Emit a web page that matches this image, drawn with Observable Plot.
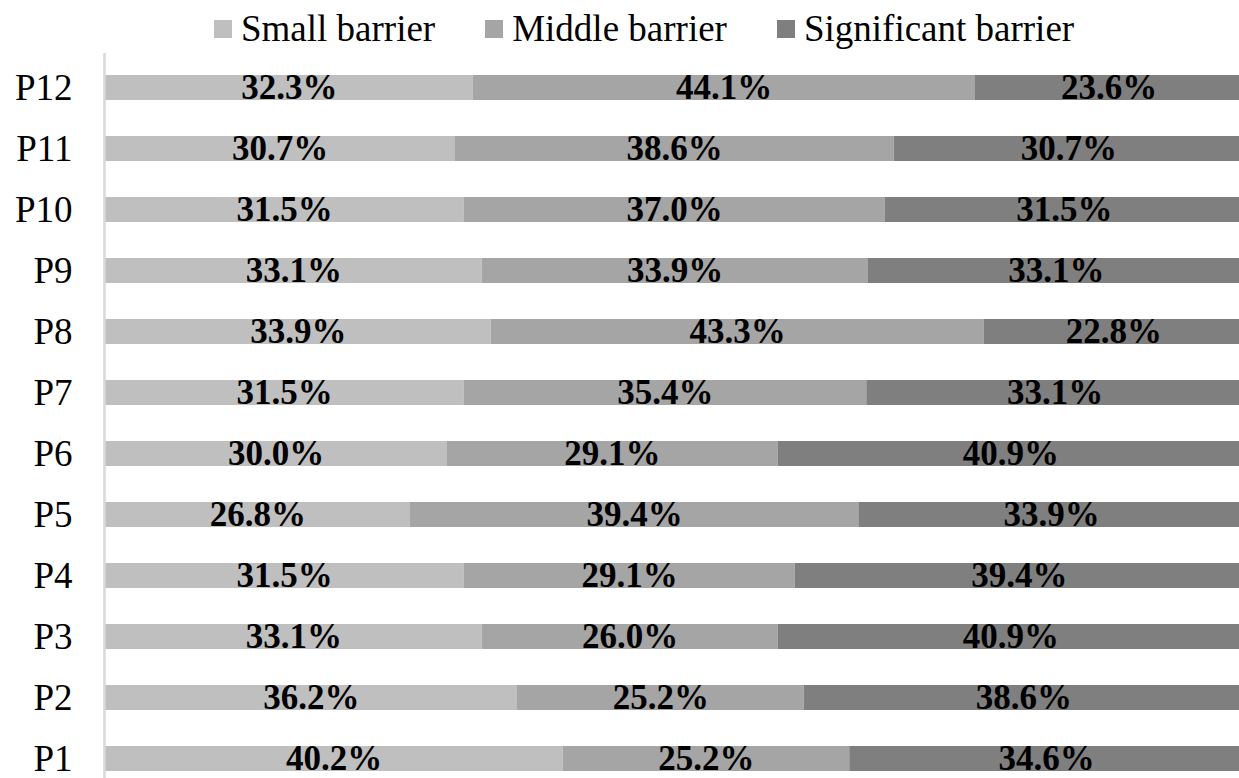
<!DOCTYPE html>
<html>
<head>
<meta charset="utf-8">
<script src="https://cdn.jsdelivr.net/npm/d3@7"></script>
<script src="https://cdn.jsdelivr.net/npm/@observablehq/plot@0.6"></script>
<style>
  html, body { margin: 0; padding: 0; background: #fff; overflow: hidden; }
  body { width: 1239px; height: 778px; font-family: 'Liberation Serif', 'Times New Roman', serif; }
  #legend { height: 53px; display: flex; align-items: center; padding-left: 214px; box-sizing: border-box; padding-top: 4px; }
  .item { display: flex; align-items: center; margin-right: 50px; font-size: 37px; color: #000; font-family: 'Liberation Serif', 'Times New Roman', serif; }
  .sw { width: 18px; height: 18px; margin-right: 9px; }
</style>
</head>
<body>
<div id="legend"></div>
<div id="chart"></div>
<script>
const categories = ["P1","P2","P3","P4","P5","P6","P7","P8","P9","P10","P11","P12"];
const series = ["Small barrier","Middle barrier","Significant barrier"];
const small = [40.2,36.2,33.1,31.5,26.8,30.0,31.5,33.9,33.1,31.5,30.7,32.3];
const middle = [25.2,25.2,26.0,29.1,39.4,29.1,35.4,43.3,33.9,37.0,38.6,44.1];
const significant = [34.6,38.6,40.9,39.4,33.9,40.9,33.1,22.8,33.1,31.5,30.7,23.6];
const colors = ["#bfbfbf","#a5a5a5","#7f7f7f"];

const valuesBySeries = [small, middle, significant];
const rows = [];
series.forEach((s, si) => {
  categories.forEach((c, ci) => {
    rows.push({cat: c, series: s, value: valuesBySeries[si][ci]});
  });
});

// legend
const legend = document.getElementById("legend");
series.forEach((s, i) => {
  const it = document.createElement("div");
  it.className = "item";
  const sw = document.createElement("span");
  sw.className = "sw";
  sw.style.background = colors[i];
  const tx = document.createElement("span");
  tx.textContent = s;
  it.appendChild(sw);
  it.appendChild(tx);
  legend.appendChild(it);
});

const chart = Plot.plot({
  width: 1239,
  height: 725,
  marginLeft: 105,
  marginRight: 0,
  marginTop: 0,
  marginBottom: 0,
  style: {fontFamily: "'Liberation Serif', 'Times New Roman', serif", color: "#000", background: "#fff"},
  x: {domain: [0, 100], range: [105, 1243], axis: null},
  y: {domain: categories.slice().reverse(), range: [-16.1, 756.6], padding: 0.593, label: null},
  color: {domain: series, range: colors},
  marks: [
    Plot.barX(rows, Plot.stackX({x: "value", y: "cat", fill: "series", order: null})),
    Plot.ruleX([0], {stroke: "#d9d9d9", strokeWidth: 2.5, dx: -1}),
    Plot.text(rows, Plot.stackX({x: "value", y: "cat", z: "series", order: null,
      text: d => d.value.toFixed(1) + "%", fontSize: 35, fontWeight: "bold", fill: "#000", dy: 0})),
    Plot.axisY({tickSize: 0, tickPadding: 33, fontSize: 37, label: null, fill: "#000"})
  ]
});
document.getElementById("chart").appendChild(chart);
</script>
</body>
</html>
